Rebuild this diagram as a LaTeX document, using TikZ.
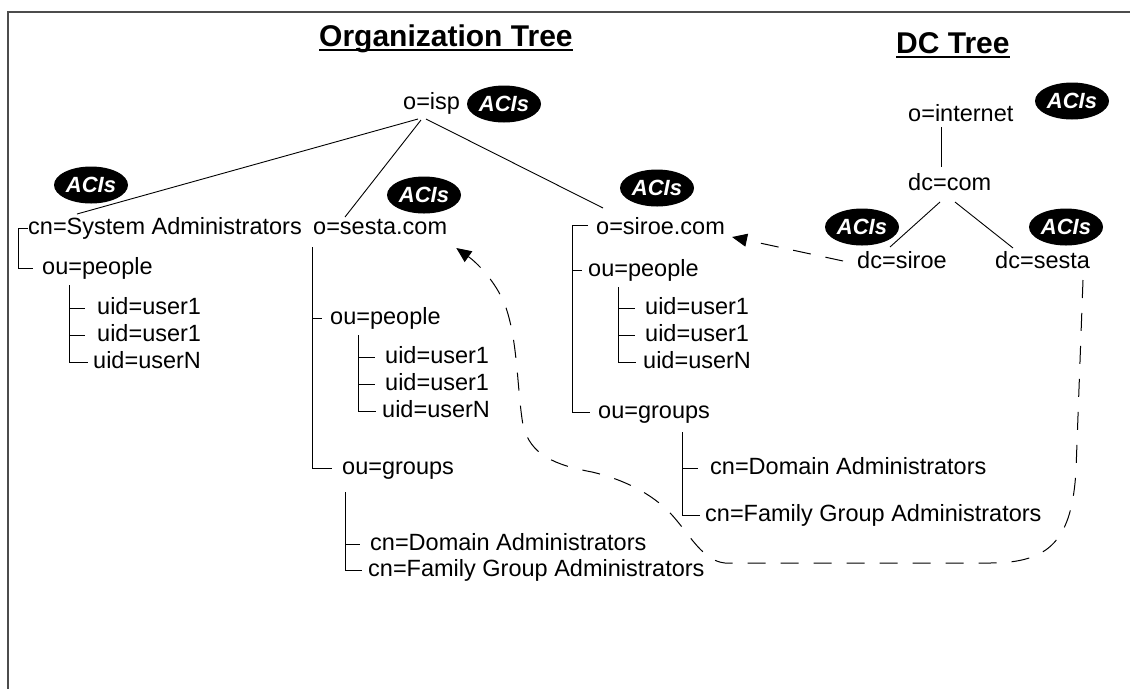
\documentclass[tikz,border=0pt]{standalone}
\usepackage{fontspec}
\setmainfont{Liberation Sans}
\usetikzlibrary{shapes.geometric, arrows.meta, calc}

\begin{document}
\begin{tikzpicture}[x=1pt, y=-1pt,
  entry/.style={anchor=west, inner sep=0pt, text height=17pt, text depth=5pt,
                font=\fontsize{23.5}{26}\selectfont},
  heading/.style={anchor=base west, inner sep=0pt, font=\bfseries\fontsize{30}{34}\selectfont},
  acis/.style={ellipse, fill=black, text=white, inner sep=0pt,
               minimum width=74pt, minimum height=37pt,
               font=\bfseries\itshape\fontsize{22}{22}\selectfont},
  branch/.style={line width=1pt},
  tie/.style={line width=0.9pt},
  ref/.style={line width=1pt, dash pattern=on 18pt off 15pt,
              -{Triangle[length=15pt,width=13pt]}},
  frame/.style={line width=2pt, black!70}]

\useasboundingbox (0,0) rectangle (1130,689);
\draw[frame] (1130,12) -- (8,12) -- (8,689);

% headings
\node[heading] (orgtitle) at (319,46) {Organization Tree};
\node[heading] (dctitle) at (896,53) {DC Tree};
\draw[line width=2pt] ([yshift=-4pt]orgtitle.base west) -- ([yshift=-4pt]orgtitle.base east);
\draw[line width=2pt] ([yshift=-4pt]dctitle.base west) -- ([yshift=-4pt]dctitle.base east);

% organization tree entries
\node[entry] (isp) at (403,103) {o=isp};
\node[entry] (sys) at (28,228) {cn=System Administrators};
\node[entry] (sesta) at (313,228) {o=sesta.com};
\node[entry] (siroe) at (596,228) {o=siroe.com};
\node[entry] (lpeople) at (42,268) {ou=people};
\node[entry] (lu1) at (97,308) {uid=user1};
\node[entry] (lu2) at (97,335) {uid=user1};
\node[entry] (luN) at (93,362) {uid=userN};
\node[entry] (speople) at (330,318) {ou=people};
\node[entry] (su1) at (385,357) {uid=user1};
\node[entry] (su2) at (385,384) {uid=user1};
\node[entry] (suN) at (382,411) {uid=userN};
\node[entry] (sgroups) at (342,468) {ou=groups};
\node[entry] (sdom) at (370,544) {cn=Domain Administrators};
\node[entry] (sfam) at (368,570) {cn=Family Group Administrators};
\node[entry] (rpeople) at (588,270) {ou=people};
\node[entry] (ru1) at (645,308) {uid=user1};
\node[entry] (ru2) at (645,335) {uid=user1};
\node[entry] (ruN) at (643,362) {uid=userN};
\node[entry] (rgroups) at (598,412) {ou=groups};
\node[entry] (rdom) at (710,468) {cn=Domain Administrators};
\node[entry] (rfam) at (705,515) {cn=Family Group Administrators};

% DC tree entries
\node[entry] (inet) at (908,115) {o=internet};
\node[entry] (dccom) at (908,184) {dc=com};
\node[entry] (dcsiroe) at (857,262) {dc=siroe};
\node[entry] (dcsesta) at (995,262) {dc=sesta};

% access control markers
\node[acis] (aIsp) at (504,104) {ACIs};
\node[acis] (aSys) at (91,185) {ACIs};
\node[acis] (aSesta) at (424,195) {ACIs};
\node[acis] (aSiroe) at (657,188) {ACIs};
\node[acis] (aInet) at (1072,101) {ACIs};
\node[acis] (aDcSiroe) at (862,227) {ACIs};
\node[acis] (aDcSesta) at (1066,227) {ACIs};

% o=isp fans out to its three children
\draw[tie] ($(isp.west)+(15,16)$) -- ($(sys.west)+(49,-14)$);
\draw[tie] ($(isp.west)+(18,17)$) -- ($(sesta.west)+(32,-11)$);
\draw[tie] ($(isp.west)+(23,16)$) -- ($(siroe.west)+(7,-20)$);

% system administrators branch
\draw[branch] (sys.west) -- ++(-10,0) |- ($(lpeople.west)+(-9,0)$);
\coordinate (lv) at ($(lpeople.west)+(27,17)$);
\draw[branch] (lv) |- ($(luN.west)+(-5,0)$);
\draw[branch] (lv |- lu1.west) -- ($(lu1.west)+(-12,0)$);
\draw[branch] (lv |- lu2.west) -- ($(lu2.west)+(-12,0)$);

% sesta.com branch
\coordinate (sv) at ($(sesta.west)+(-1,19)$);
\draw[branch] (sv) |- ($(sgroups.west)+(-10,0)$);
\draw[branch] (sv |- speople.west) -- ($(speople.west)+(-8,0)$);
\coordinate (suv) at ($(speople.west)+(28,17)$);
\draw[branch] (suv) |- ($(suN.west)+(-6,0)$);
\draw[branch] (suv |- su1.west) -- ($(su1.west)+(-10,0)$);
\draw[branch] (suv |- su2.west) -- ($(su2.west)+(-10,0)$);
\coordinate (sgv) at ($(sgroups.west)+(3,24)$);
\draw[branch] (sgv) |- ($(sfam.west)+(-6,0)$);
\draw[branch] (sgv |- sdom.west) -- ($(sdom.west)+(-10,0)$);

% siroe.com branch
\coordinate (rv) at ($(siroe.west)+(-24,-3)$);
\draw[branch] ($(siroe.west)+(-8,-3)$) -- (rv) |- ($(rgroups.west)+(-8,0)$);
\draw[branch] (rv |- rpeople.west) -- ($(rpeople.west)+(-6,0)$);
\coordinate (ruv) at ($(rpeople.west)+(30,17)$);
\draw[branch] (ruv) |- ($(ruN.west)+(-7,0)$);
\draw[branch] (ruv |- ru1.west) -- ($(ru1.west)+(-10,0)$);
\draw[branch] (ruv |- ru2.west) -- ($(ru2.west)+(-10,0)$);
\coordinate (rgv) at ($(rgroups.west)+(84,20)$);
\draw[branch] (rgv) |- ($(rfam.west)+(-5,0)$);
\draw[branch] (rgv |- rdom.west) -- ($(rdom.west)+(-12,0)$);

% DC tree links
\draw[tie] ($(inet.west)+(33,12)$) -- ($(dccom.west)+(33,-17)$);
\draw[tie] ($(dccom.west)+(32,18)$) -- ($(dcsiroe.west)+(33,-15)$);
\draw[tie] ($(dccom.west)+(47,18)$) -- ($(dcsesta.west)+(18,-14)$);

% dc entries refer to their organizations
\draw[ref] ($(dcsiroe.west)+(-14,-1)$) -- ($(siroe.east)+(7,9)$);
\draw[ref] ($(dcsesta.west)+(88,18)$) -- (1076,470)
  .. controls (1072,540) and (1050,563) .. (990,563) -- (725,563)
  .. controls (703,561) and (690,535) .. (672,515)
  .. controls (652,493) and (622,479) .. (592,472)
  .. controls (555,465) and (530,455) .. (523,425)
  .. controls (517,390) and (518,340) .. (505,305)
  .. controls (495,280) and (476,262) .. ($(sesta.east)+(9,20)$);
\end{tikzpicture}
\end{document}
